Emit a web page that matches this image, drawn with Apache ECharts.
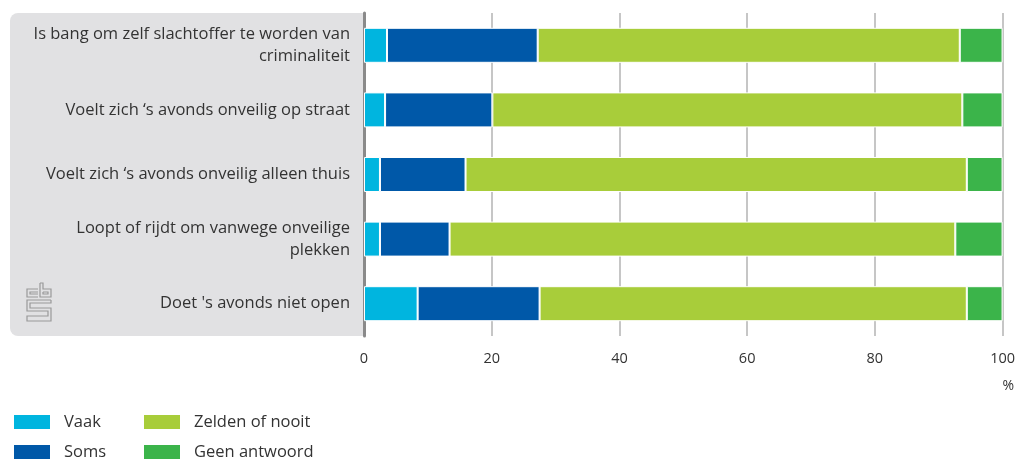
<!DOCTYPE html>
<html><head><meta charset="utf-8">
<script src="https://cdn.jsdelivr.net/npm/echarts@6/dist/echarts.min.js"></script>
<style>html,body{margin:0;padding:0;background:#fff}#c{width:1018px;height:459px}</style>
</head><body><div id="c"></div>
<script>
const categories = [
  "Is bang om zelf slachtoffer te worden van\ncriminaliteit",
  "Voelt zich \u2018s avonds onveilig op straat",
  "Voelt zich \u2018s avonds onveilig alleen thuis",
  "Loopt of rijdt om vanwege onveilige\nplekken",
  "Doet 's avonds niet open"
];
const vaak = [3.6, 3.3, 2.5, 2.5, 8.4];
const soms = [23.6, 16.8, 13.4, 10.9, 19.1];
const zelden = [66.1, 73.6, 78.5, 79.2, 66.9];
const geen = [6.7, 6.3, 5.6, 7.4, 5.6];
const xTicks = [0, 20, 40, 60, 80, 100];

const FONT = 'Open Sans';
const chart = echarts.init(document.getElementById('c'));
function ser(name, data, color) {
  return {name, type: 'bar', stack: 'a', data, barWidth: 35,
    itemStyle: {color, borderColor: '#fff', borderWidth: 1}, z: 3};
}
function leg(name, left, top) {
  return {data: [name], left, top, padding: 0, itemWidth: 38, itemHeight: 16,
    icon: 'rect', textStyle: {color: '#333', fontSize: 16.5, padding: [0, 0, 0, 8], fontFamily: FONT}};
}
const S = {stroke: '#999', fill: null, lineWidth: 1.2};
chart.setOption({
  animation: false,
  textStyle: {fontFamily: FONT},
  grid: {left: 364, right: 13, top: 13, bottom: 123, containLabel: false},
  xAxis: {
    type: 'value', min: 0, max: 100, interval: 20,
    axisLine: {show: false}, axisTick: {show: false},
    splitLine: {show: true, lineStyle: {color: '#b3b3b3', width: 1.5}},
    axisLabel: {color: '#333', fontSize: 14.5, margin: 15, fontFamily: FONT,
      formatter: v => xTicks.includes(v) ? String(v) : ''}
  },
  yAxis: {
    type: 'category', data: categories, inverse: true,
    axisLine: {show: true, lineStyle: {color: '#8a8a8a', width: 3}},
    axisTick: {show: false},
    axisLabel: {color: '#333', fontSize: 16.5, margin: 14, lineHeight: 22, align: 'right', fontFamily: FONT}
  },
  legend: [
    leg('Vaak', 12, 413), leg('Soms', 12, 443),
    leg('Zelden of nooit', 142, 413), leg('Geen antwoord', 142, 443)
  ],
  graphic: [
    {type: 'rect', left: 10, top: 13, z: -10, silent: true,
      shape: {width: 354, height: 323, r: [8, 0, 0, 8]}, style: {fill: '#e1e1e3'}},
    {type: 'group', x: 27, y: 283, z: 0, silent: true, children: [
      {type: 'polyline', shape: {points: [[11,6],[0,6],[0,14],[11,14]]}, style: S},
      {type: 'polyline', shape: {points: [[11,9],[3,9],[3,11],[11,11]]}, style: S},
      {type: 'polyline', shape: {points: [[13,0],[13,14],[24,14],[24,6],[16,6],[16,0],[13,0]]}, style: S},
      {type: 'polyline', shape: {points: [[16,9],[21,9],[21,11],[16,11],[16,9]]}, style: S},
      {type: 'polyline', shape: {points: [[24,17],[0,17],[0,28],[21,28],[21,33],[0,33],[0,38],[24,38],[24,25],[3,25],[3,20],[24,20],[24,17]]}, style: S}
    ]},
    {type: 'text', right: 4, top: 379, style: {text: '%', fill: '#333', font: '14px ' + FONT}}
  ],
  series: [
    ser('Vaak', vaak, '#00b5df'),
    ser('Soms', soms, '#0058a8'),
    ser('Zelden of nooit', zelden, '#a8cd3a'),
    ser('Geen antwoord', geen, '#3bb44a')
  ]
});
</script></body></html>
